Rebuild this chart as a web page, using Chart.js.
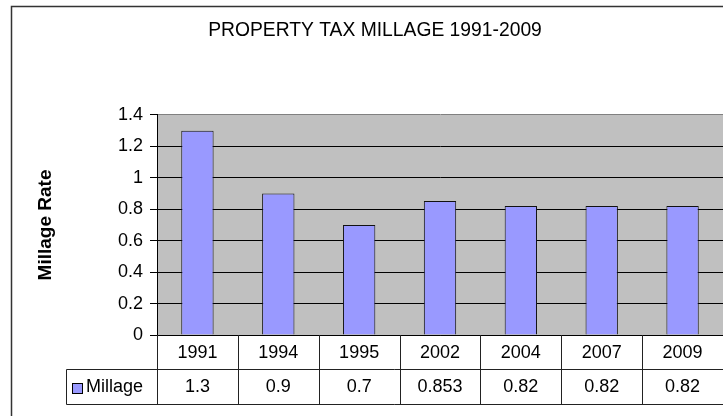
<!DOCTYPE html>
<html>
<head>
<meta charset="utf-8">
<script src="https://cdn.jsdelivr.net/npm/chart.js@4"></script>
<style>
  html, body { margin: 0; padding: 0; background: #fff; }
  #wrap { width: 723px; height: 416px; }
</style>
</head>
<body>
<div id="wrap"><canvas id="c" width="723" height="416"></canvas></div>
<script>
const titleText = 'PROPERTY TAX MILLAGE 1991-2009';
const yAxisTitle = 'Millage Rate';
const seriesName = 'Millage';
const categories = ['1991', '1994', '1995', '2002', '2004', '2007', '2009'];
const millage = [1.3, 0.9, 0.7, 0.853, 0.82, 0.82, 0.82];
const valueLabels = ['1.3', '0.9', '0.7', '0.853', '0.82', '0.82', '0.82'];
const yTicks = [0, 0.2, 0.4, 0.6, 0.8, 1, 1.2, 1.4];
const yTickLabels = ['0', '0.2', '0.4', '0.6', '0.8', '1', '1.2', '1.4'];

const FONT = '"Liberation Sans", Arial, sans-serif';
const BAR_FILL = '#9999FF';
const LINE = '#222';

const framePlugin = {
  id: 'frame',
  beforeDraw(chart) {
    const ctx = chart.ctx;
    const a = chart.chartArea;
    ctx.save();
    ctx.fillStyle = '#fff';
    ctx.fillRect(0, 0, chart.width, chart.height);
    // outer chart border
    ctx.strokeStyle = '#333';
    ctx.lineWidth = 1.5;
    ctx.beginPath();
    ctx.moveTo(11.5, chart.height + 2);
    ctx.lineTo(11.5, 6.5);
    ctx.lineTo(chart.width + 2, 6.5);
    ctx.stroke();
    // plot area
    ctx.fillStyle = '#C0C0C0';
    ctx.fillRect(a.left, a.top, a.right - a.left, a.bottom - a.top);
    ctx.restore();
  },
  afterDraw(chart) {
    const ctx = chart.ctx;
    const a = chart.chartArea;
    const xs = chart.scales.x;
    const n = categories.length;
    const step = xs.getPixelForValue(1) - xs.getPixelForValue(0);
    const row1Top = a.bottom;
    const rowH = 34;
    const row2Top = row1Top + rowH;
    const row2Bot = row2Top + rowH + 1;
    const legendLeft = 66.5;
    ctx.save();
    ctx.strokeStyle = LINE;
    ctx.lineWidth = 1;
    ctx.beginPath();
    // horizontal lines
    ctx.moveTo(legendLeft, Math.round(row2Top) + 0.5);
    ctx.lineTo(chart.width, Math.round(row2Top) + 0.5);
    ctx.moveTo(legendLeft, Math.round(row2Bot) + 0.5);
    ctx.lineTo(chart.width, Math.round(row2Bot) + 0.5);
    // legend cell left border
    ctx.moveTo(legendLeft, Math.round(row2Top) + 0.5);
    ctx.lineTo(legendLeft, Math.round(row2Bot) + 0.5);
    // column dividers
    for (let i = 0; i <= n; i++) {
      const x = Math.round(xs.getPixelForValue(i) - step / 2) + 0.5;
      ctx.moveTo(x, row1Top);
      ctx.lineTo(x, Math.round(row2Bot) + 0.5);
    }
    ctx.stroke();

    ctx.fillStyle = '#000';
    ctx.font = '18px ' + FONT;
    ctx.textAlign = 'center';
    ctx.textBaseline = 'middle';
    for (let i = 0; i < n; i++) {
      const x = xs.getPixelForValue(i);
      ctx.fillText(categories[i], x, row1Top + rowH / 2 + 1);
      ctx.fillText(valueLabels[i], x, row2Top + (row2Bot - row2Top) / 2 + 1);
    }
    // legend key
    ctx.fillStyle = BAR_FILL;
    ctx.fillRect(72.5, 383.5, 10, 10);
    ctx.strokeStyle = '#000';
    ctx.strokeRect(72.5, 383.5, 10, 10);
    ctx.fillStyle = '#000';
    ctx.textAlign = 'left';
    ctx.fillText(seriesName, 86, row2Top + (row2Bot - row2Top) / 2 + 1);
    ctx.restore();
  }
};

new Chart(document.getElementById('c'), {
  type: 'bar',
  data: {
    labels: categories,
    datasets: [{
      label: seriesName,
      data: millage,
      backgroundColor: BAR_FILL,
      borderColor: '#111',
      borderWidth: 1,
      categoryPercentage: 1,
      barPercentage: 0.4
    }]
  },
  options: {
    responsive: false,
    devicePixelRatio: 1,
    animation: false,
    layout: { padding: { left: 27, top: 0, right: 0, bottom: 81 } },
    plugins: {
      legend: { display: false },
      tooltip: { enabled: false },
      title: {
        display: true,
        text: titleText,
        color: '#000',
        font: { family: FONT, size: 19.3, weight: 'normal' },
        padding: { top: 18.6, bottom: 73.2 }
      }
    },
    scales: {
      x: {
        offset: true,
        grid: { display: false, drawTicks: false },
        ticks: { display: false },
        border: { display: true, color: '#000', width: 1 },
        afterFit(s) { s.height = 0; }
      },
      y: {
        min: 0,
        max: 1.4,
        afterBuildTicks(s) { s.ticks = yTicks.map(v => ({ value: v })); },
        ticks: {
          color: '#000',
          padding: 7,
          font: { family: FONT, size: 18 },
          callback: (v) => yTickLabels[yTicks.indexOf(v)] ?? String(v)
        },
        grid: {
          color: (c) => (c.tick && c.tick.value === 1.4 ? '#808080' : '#000'),
          tickColor: '#000',
          tickLength: 7,
          lineWidth: 1
        },
        border: { display: true, color: '#000', width: 1 },
        title: {
          display: true,
          text: yAxisTitle,
          color: '#000',
          font: { family: FONT, size: 19, weight: 'bold' },
          padding: { top: 7.1, bottom: 0 }
        },
        afterFit(s) { s.width = 130; }
      }
    }
  },
  plugins: [framePlugin]
});
</script>
</body>
</html>
